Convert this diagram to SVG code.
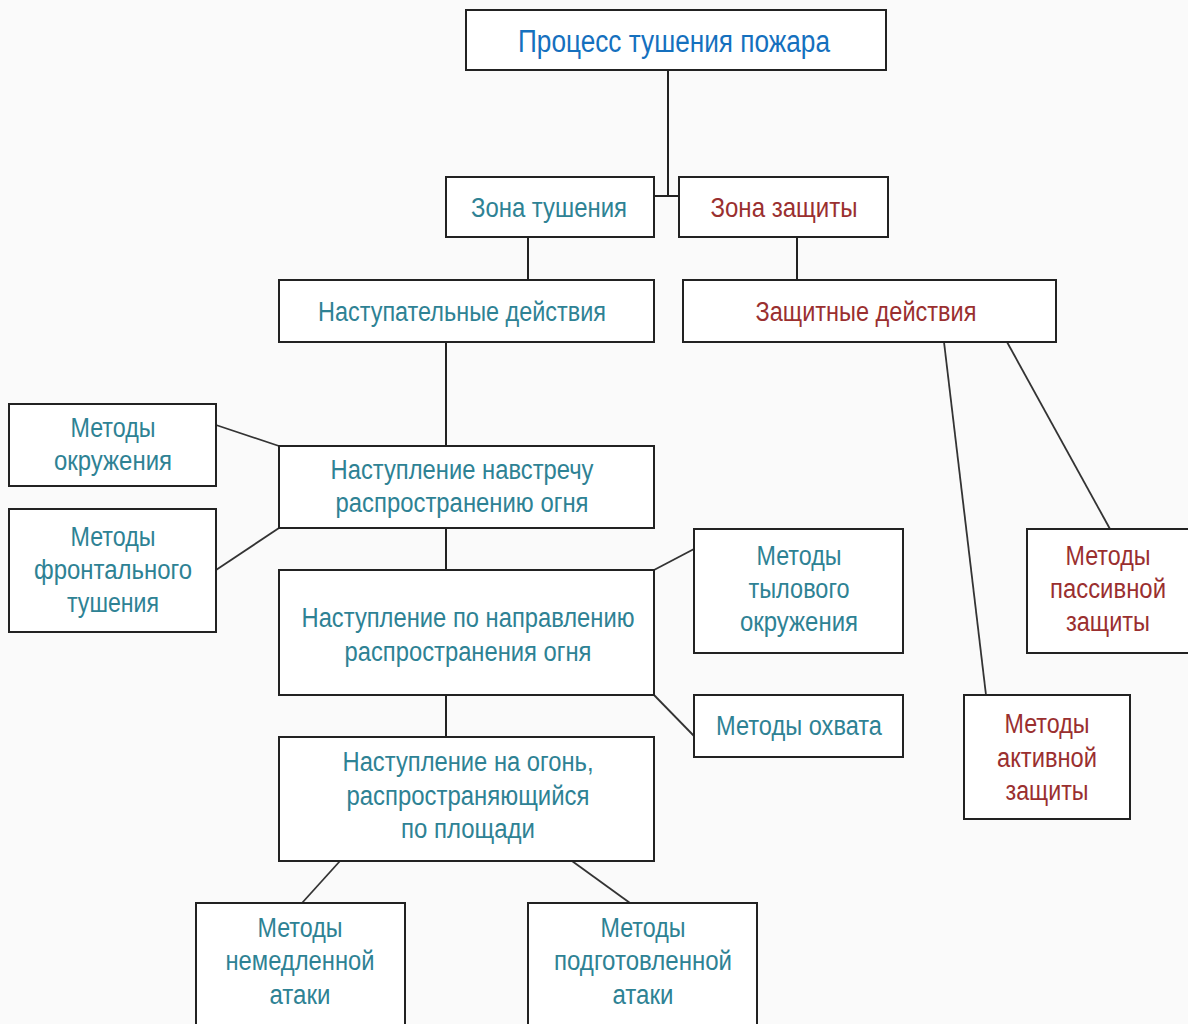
<svg xmlns="http://www.w3.org/2000/svg" width="1188" height="1024" viewBox="0 0 1188 1024">
<style>
.bg{fill:#fafafa}
.box{fill:#ffffff;stroke:#222;stroke-width:2}
.ln{stroke:#222;stroke-width:2;fill:none}
.dl{stroke:#333;stroke-width:1.8;fill:none}
text{font-family:"Liberation Sans",Arial,sans-serif;font-size:27px;text-anchor:middle}
text.big{font-size:31px}
text.mid{font-size:28px}
.t{fill:#2e8294}
.r{fill:#9a2f2f}
.b{fill:#1570be}
</style>
<rect class="bg" x="0" y="0" width="1188" height="1024"/>
<g id="connectors">
<polyline class="ln" points="668,70 668,196"/>
<line class="ln" x1="654" y1="196" x2="679" y2="196"/>
<line class="ln" x1="528" y1="237" x2="528" y2="280"/>
<line class="ln" x1="797" y1="237" x2="797" y2="280"/>
<line class="ln" x1="446" y1="342" x2="446" y2="446"/>
<line class="dl" x1="216" y1="425" x2="279" y2="446"/>
<line class="dl" x1="216" y1="570" x2="279" y2="528"/>
<line class="ln" x1="446" y1="528" x2="446" y2="570"/>
<line class="dl" x1="654" y1="570" x2="694" y2="549"/>
<line class="dl" x1="654" y1="695" x2="694" y2="736"/>
<line class="ln" x1="446" y1="695" x2="446" y2="737"/>
<line class="dl" x1="340" y1="861" x2="302" y2="903"/>
<line class="dl" x1="572" y1="861" x2="630" y2="903"/>
<line class="dl" x1="944" y1="342" x2="986" y2="695"/>
<line class="dl" x1="1007" y1="342" x2="1110" y2="529"/>
</g>
<g id="n-process">
<rect class="box" x="466" y="10" width="420" height="60"/>
<text class="b big" x="674" y="52" textLength="312" lengthAdjust="spacingAndGlyphs">Процесс тушения пожара</text>
</g>
<g id="n-zona-tush">
<rect class="box" x="446" y="177" width="208" height="60"/>
<text class="t mid" x="549" y="217" textLength="156" lengthAdjust="spacingAndGlyphs">Зона тушения</text>
</g>
<g id="n-zona-zasch">
<rect class="box" x="679" y="177" width="209" height="60"/>
<text class="r mid" x="784" y="217" textLength="147" lengthAdjust="spacingAndGlyphs">Зона защиты</text>
</g>
<g id="n-nast-deyst">
<rect class="box" x="279" y="280" width="375" height="62"/>
<text class="t" x="462" y="321" textLength="288" lengthAdjust="spacingAndGlyphs">Наступательные действия</text>
</g>
<g id="n-zasch-deyst">
<rect class="box" x="683" y="280" width="373" height="62"/>
<text class="r" x="866" y="321" textLength="221" lengthAdjust="spacingAndGlyphs">Защитные действия</text>
</g>
<g id="n-okruzh">
<rect class="box" x="9" y="404" width="207" height="82"/>
<text class="t" x="113" y="437" textLength="85" lengthAdjust="spacingAndGlyphs">Методы</text>
<text class="t" x="113" y="470" textLength="118" lengthAdjust="spacingAndGlyphs">окружения</text>
</g>
<g id="n-front">
<rect class="box" x="9" y="509" width="207" height="123"/>
<text class="t" x="113" y="546" textLength="85" lengthAdjust="spacingAndGlyphs">Методы</text>
<text class="t" x="113" y="579" textLength="158" lengthAdjust="spacingAndGlyphs">фронтального</text>
<text class="t" x="113" y="612" textLength="92" lengthAdjust="spacingAndGlyphs">тушения</text>
</g>
<g id="n-navstrechu">
<rect class="box" x="279" y="446" width="375" height="82"/>
<text class="t" x="462" y="479" textLength="263" lengthAdjust="spacingAndGlyphs">Наступление навстречу</text>
<text class="t" x="462" y="512" textLength="253" lengthAdjust="spacingAndGlyphs">распространению огня</text>
</g>
<g id="n-napravl">
<rect class="box" x="279" y="570" width="375" height="125"/>
<text class="t" x="468" y="627" textLength="333" lengthAdjust="spacingAndGlyphs">Наступление по направлению</text>
<text class="t" x="468" y="661" textLength="247" lengthAdjust="spacingAndGlyphs">распространения огня</text>
</g>
<g id="n-tyl">
<rect class="box" x="694" y="529" width="209" height="124"/>
<text class="t" x="799" y="565" textLength="85" lengthAdjust="spacingAndGlyphs">Методы</text>
<text class="t" x="799" y="598" textLength="101" lengthAdjust="spacingAndGlyphs">тылового</text>
<text class="t" x="799" y="631" textLength="118" lengthAdjust="spacingAndGlyphs">окружения</text>
</g>
<g id="n-okhvat">
<rect class="box" x="694" y="695" width="209" height="62"/>
<text class="t" x="799" y="735" textLength="166" lengthAdjust="spacingAndGlyphs">Методы охвата</text>
</g>
<g id="n-ploshchad">
<rect class="box" x="279" y="737" width="375" height="124"/>
<text class="t" x="468" y="771" textLength="251" lengthAdjust="spacingAndGlyphs">Наступление на огонь,</text>
<text class="t" x="468" y="805" textLength="243" lengthAdjust="spacingAndGlyphs">распространяющийся</text>
<text class="t" x="468" y="838" textLength="134" lengthAdjust="spacingAndGlyphs">по площади</text>
</g>
<g id="n-nemedl">
<rect class="box" x="196" y="903" width="209" height="130"/>
<text class="t" x="300" y="937" textLength="85" lengthAdjust="spacingAndGlyphs">Методы</text>
<text class="t" x="300" y="970" textLength="149" lengthAdjust="spacingAndGlyphs">немедленной</text>
<text class="t" x="300" y="1004" textLength="61" lengthAdjust="spacingAndGlyphs">атаки</text>
</g>
<g id="n-podgot">
<rect class="box" x="528" y="903" width="229" height="130"/>
<text class="t" x="643" y="937" textLength="85" lengthAdjust="spacingAndGlyphs">Методы</text>
<text class="t" x="643" y="970" textLength="178" lengthAdjust="spacingAndGlyphs">подготовленной</text>
<text class="t" x="643" y="1004" textLength="61" lengthAdjust="spacingAndGlyphs">атаки</text>
</g>
<g id="n-passiv">
<rect class="box" x="1027" y="529" width="170" height="124"/>
<text class="r" x="1108" y="565" textLength="85" lengthAdjust="spacingAndGlyphs">Методы</text>
<text class="r" x="1108" y="598" textLength="116" lengthAdjust="spacingAndGlyphs">пассивной</text>
<text class="r" x="1108" y="631" textLength="84" lengthAdjust="spacingAndGlyphs">защиты</text>
</g>
<g id="n-aktiv">
<rect class="box" x="964" y="695" width="166" height="124"/>
<text class="r" x="1047" y="733" textLength="85" lengthAdjust="spacingAndGlyphs">Методы</text>
<text class="r" x="1047" y="767" textLength="100" lengthAdjust="spacingAndGlyphs">активной</text>
<text class="r" x="1047" y="800" textLength="83" lengthAdjust="spacingAndGlyphs">защиты</text>
</g>
</svg>
